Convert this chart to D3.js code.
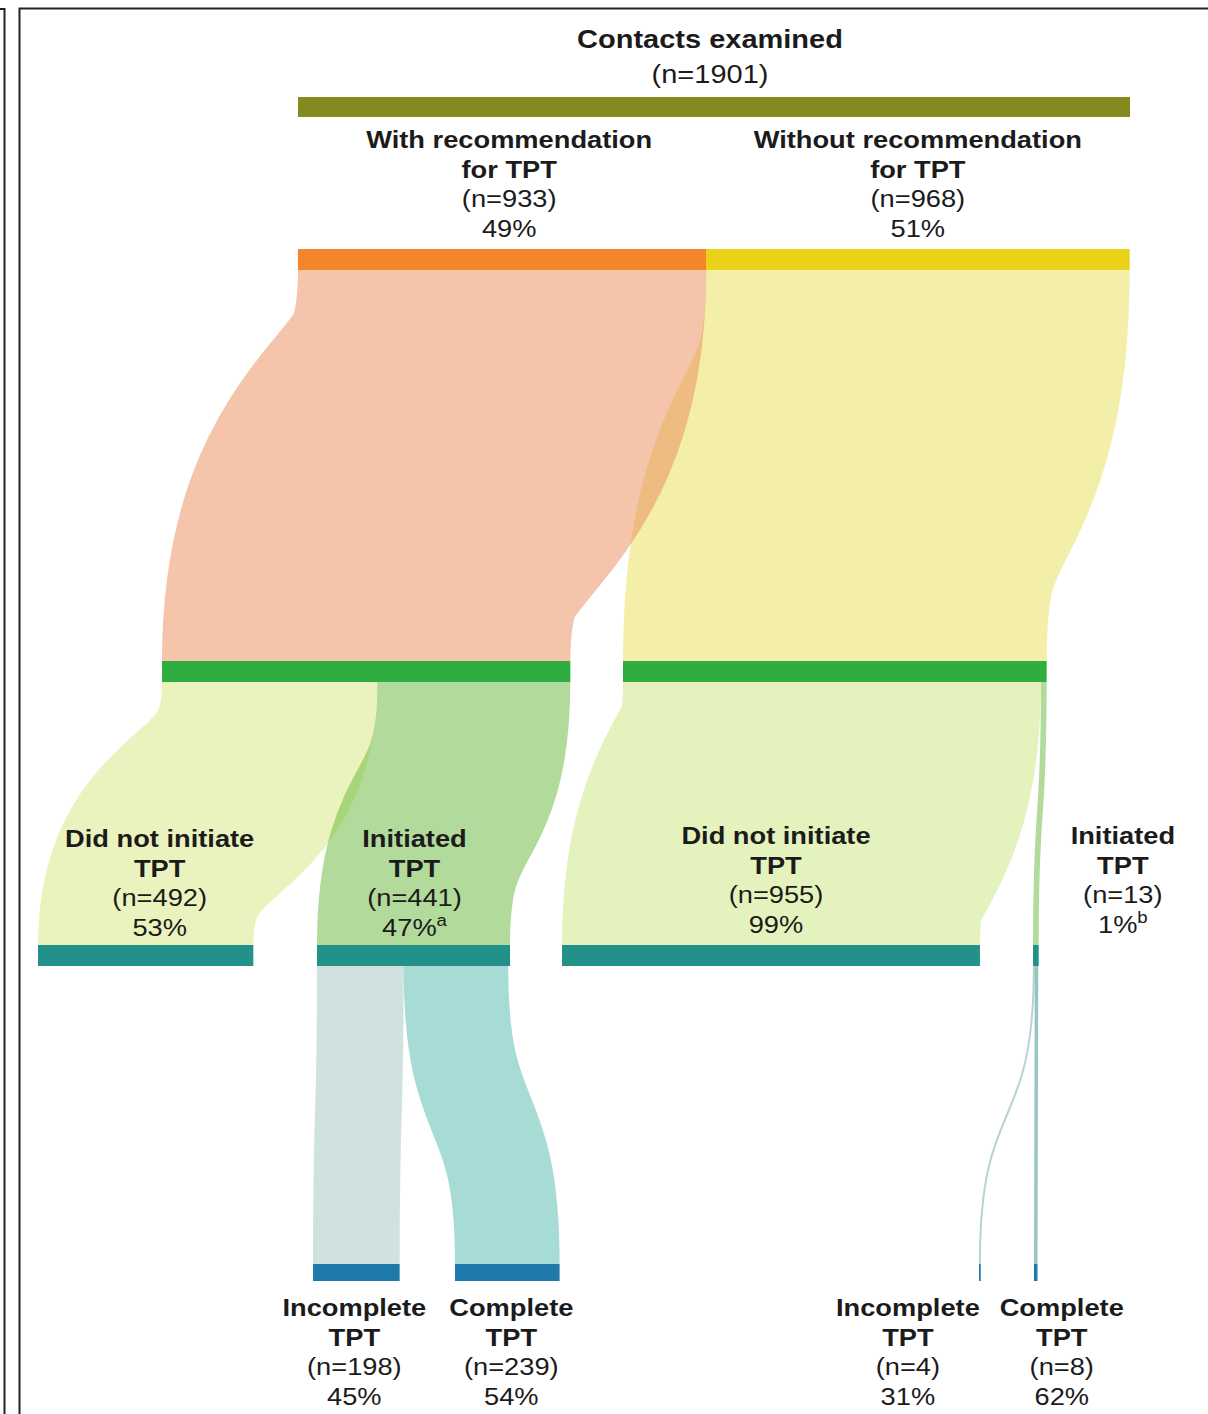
<!DOCTYPE html>
<html>
<head>
<meta charset="utf-8">
<script src="https://cdn.jsdelivr.net/npm/d3@7"></script>
<style>
  body { margin: 0; background: #fff; }
  svg { display: block; }
  text { font-family: "Liberation Sans", Arial, Helvetica, sans-serif; fill: #1b1b1b; }
</style>
</head>
<body>
<svg id="chart"></svg>
<script>
// nodes, top to bottom
var nodeTitles = [
    ["Contacts examined"],
    ["With recommendation", "for TPT"],
    ["Without recommendation", "for TPT"],
    [], [],
    ["Did not initiate", "TPT"],
    ["Initiated", "TPT"],
    ["Did not initiate", "TPT"],
    ["Initiated", "TPT"],
    ["Incomplete", "TPT"],
    ["Complete", "TPT"],
    ["Incomplete", "TPT"],
    ["Complete", "TPT"]
];
var nodeValues = [1901, 933, 968, 933, 968, 492, 441, 955, 13, 198, 239, 4, 8];
var nodeLevels = [0, 1, 1, 2, 2, 3, 3, 3, 3, 4, 4, 4, 4];
var nodePercents = ["", "49%", "51%", "", "", "53%", "47%", "99%", "1%", "45%", "54%", "31%", "62%"];
var nodeNotes = ["", "", "", "", "", "", "a", "", "b", "", "", "", ""];

// links (drawn in this order)
var linkSource = [2, 1, 3, 3, 4, 4, 6, 6, 8, 8];
var linkTarget = [4, 3, 5, 6, 7, 8, 9, 10, 11, 12];
var linkValues = [968, 933, 492, 441, 955, 13, 198, 239, 4, 8];

var levelColors = ["#848a1e", "#f3862a", "#2fad3e", "#229189", "#1f79ab"];
var levelOneColors = ["#f3862a", "#ebd21a"];
var linkColors = ["#e7df51", "#e98957", "#d5e77b", "#65b537", "#c9e77b", "#65b537",
                  "#a1c5c1", "#4fb7ab", "#74a8a1", "#2b8d81"];

// layout
var screen = {width: 1208, height: 1414};
var levelTop = [97, 249, 661, 945, 1264];
var levelHeight = [20, 21, 21, 21, 17];
var nodeLeft = [298, 298, 706, 162, 623, 38, 317, 562, 1033, 313, 455, 979, 1034];
var labelDx = [-4, 7, 0, 0, 0, 14, 1, 5, 87, -2, 4, -72, 26];
var labelY = [48, 148, 148, 0, 0, 847, 847, 844, 844, 1316, 1316, 1316, 1316];
var lineGap = 29.5;
var stretch = 1.16;
var bend = 0.58;

var svg = d3.select("#chart")
    .attr("width", screen.width)
    .attr("height", screen.height);

var wScale = d3.scaleLinear().domain([0, 1901]).range([0, 832]);

var nodes = nodeValues.map(function(v, i)
{
    return {i: i, value: v, level: nodeLevels[i], x0: nodeLeft[i],
            x1: nodeLeft[i] + wScale(v), outOff: 0, inOff: 0};
});

// frame
svg.append("path")
    .attr("d", "M0,9H4.5V1414")
    .attr("fill", "none").attr("stroke", "#222").attr("stroke-width", 2);
svg.append("path")
    .attr("d", "M19.5,1414V8.5H1208")
    .attr("fill", "none").attr("stroke", "#222").attr("stroke-width", 2);

// links
var links = linkValues.map(function(v, i)
{
    var s = nodes[linkSource[i]], t = nodes[linkTarget[i]];
    var w = wScale(v);
    var sx = s.x0 + s.outOff + w / 2;
    var tx = t.x0 + t.inOff + w / 2;
    s.outOff += w;
    t.inOff += w;
    return {
        sx: sx, sy: levelTop[s.level] + levelHeight[s.level],
        tx: tx, ty: levelTop[t.level],
        width: w, color: linkColors[i]
    };
});

var linkPath = function(d)
{
    var p = d3.path();
    var dy = d.ty - d.sy;
    p.moveTo(d.sx, d.sy);
    p.bezierCurveTo(d.sx, d.sy + bend * dy, d.tx, d.ty - bend * dy, d.tx, d.ty);
    return p.toString();
};

svg.append("g")
    .selectAll("path")
    .data(links)
    .enter()
    .append("path")
    .attr("d", linkPath)
    .attr("fill", "none")
    .attr("stroke", function(d){return d.color;})
    .attr("stroke-opacity", 0.5)
    .attr("stroke-width", function(d){return Math.max(d.width, 2);});

// bars
svg.append("g")
    .selectAll("rect")
    .data(nodes)
    .enter()
    .append("rect")
    .attr("x", function(d){return d.x0;})
    .attr("y", function(d){return levelTop[d.level];})
    .attr("width", function(d){return Math.max(d.x1 - d.x0, 1.5);})
    .attr("height", function(d){return levelHeight[d.level];})
    .attr("fill", function(d)
    {
        if (d.level == 1) return levelOneColors[d.i - 1];
        return levelColors[d.level];
    });

// labels
var labelled = nodes.filter(function(d){return nodeTitles[d.i].length > 0;});

labelled.forEach(function(d)
{
    var cx = (d.x0 + d.x1) / 2 + labelDx[d.i];
    var y = labelY[d.i];
    var gap = d.i == 0 ? 35 : lineGap;
    var size = d.i == 0 ? 25 : 23.5;
    var lines = nodeTitles[d.i].map(function(t){return {text: t, bold: true};});
    lines.push({text: "(n=" + d.value + ")", bold: false});
    if (nodePercents[d.i]) lines.push({text: nodePercents[d.i], bold: false, note: nodeNotes[d.i]});

    lines.forEach(function(l, k)
    {
        var t = svg.append("text")
            .attr("transform", "translate(" + cx + "," + (y + k * gap) + ") scale(" + stretch + ",1)")
            .attr("text-anchor", "middle")
            .attr("font-size", size)
            .attr("font-weight", l.bold ? "bold" : "normal");
        t.append("tspan").text(l.text);
        if (l.note)
        {
            t.append("tspan")
                .attr("font-size", 16)
                .attr("dy", -10)
                .text(l.note);
        }
    });
});
</script>
</body>
</html>
